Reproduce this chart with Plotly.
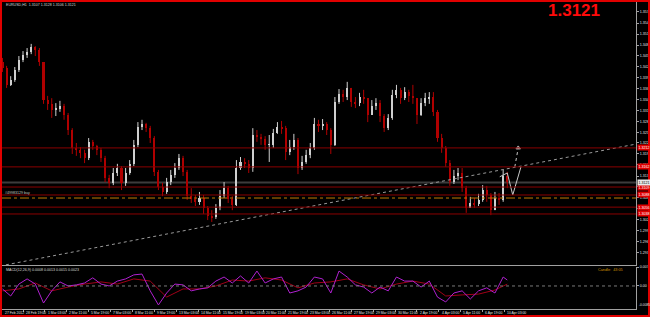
import plotly.graph_objects as go

# ---------------- data (EURUSD H1, 6-hour candles) ----------------
candle_bar = list(range(-30, 709, 6))  # bar index (H1 bars) of each candle

opens = [
    1.3438, 1.3422, 1.3378, 1.3391, 1.3417, 1.3444, 1.3457, 1.3465, 1.3478, 1.3470,
    1.3438, 1.3338, 1.3328, 1.3312, 1.3317, 1.3322, 1.3299, 1.3259, 1.3212, 1.3207,
    1.3199, 1.3185, 1.3228, 1.3217, 1.3207, 1.3185, 1.3133, 1.3120, 1.3146, 1.3159,
    1.3120, 1.3146, 1.3170, 1.3220, 1.3267, 1.3275, 1.3264, 1.3238, 1.3149, 1.3109,
    1.3096, 1.3122, 1.3141, 1.3159, 1.3185, 1.3149, 1.3085, 1.3077, 1.3070, 1.3080,
    1.3054, 1.3033, 1.3030, 1.3054, 1.3085, 1.3106, 1.3077, 1.3062, 1.3159, 1.3175,
    1.3170, 1.3159, 1.3246, 1.3241, 1.3235, 1.3220, 1.3220, 1.3251, 1.3267, 1.3264,
    1.3201, 1.3214, 1.3233, 1.3159, 1.3175, 1.3193, 1.3212, 1.3275, 1.3270, 1.3275,
    1.3259, 1.3220, 1.3333, 1.3354, 1.3346, 1.3370, 1.3333, 1.3330, 1.3346, 1.3343,
    1.3299, 1.3322, 1.3330, 1.3296, 1.3264, 1.3291, 1.3351, 1.3365, 1.3343, 1.3359,
    1.3349, 1.3343, 1.3299, 1.3330, 1.3343, 1.3346, 1.3307, 1.3238, 1.3212, 1.3172,
    1.3122, 1.3138, 1.3146, 1.3106, 1.3054, 1.3067, 1.3064, 1.3075, 1.3101, 1.3088,
    1.3048, 1.3080, 1.3075, 1.3138]
highs = [
    1.3449, 1.3428, 1.3401, 1.3425, 1.3454, 1.3467, 1.3475, 1.3486, 1.3480, 1.3475,
    1.3438, 1.3349, 1.3343, 1.3330, 1.3336, 1.3328, 1.3304, 1.3264, 1.3225, 1.3214,
    1.3207, 1.3238, 1.3233, 1.3220, 1.3212, 1.3191, 1.3141, 1.3159, 1.3170, 1.3164,
    1.3159, 1.3180, 1.3233, 1.3280, 1.3286, 1.3278, 1.3270, 1.3243, 1.3154, 1.3120,
    1.3133, 1.3154, 1.3172, 1.3196, 1.3191, 1.3154, 1.3106, 1.3088, 1.3096, 1.3088,
    1.3059, 1.3048, 1.3064, 1.3101, 1.3122, 1.3112, 1.3085, 1.3180, 1.3188, 1.3185,
    1.3180, 1.3264, 1.3259, 1.3249, 1.3243, 1.3246, 1.3262, 1.3280, 1.3283, 1.3270,
    1.3233, 1.3249, 1.3238, 1.3191, 1.3207, 1.3225, 1.3291, 1.3286, 1.3288, 1.3280,
    1.3264, 1.3346, 1.3367, 1.3365, 1.3386, 1.3370, 1.3346, 1.3357, 1.3365, 1.3343,
    1.3338, 1.3343, 1.3338, 1.3301, 1.3301, 1.3365, 1.3378, 1.3370, 1.3372, 1.3365,
    1.3378, 1.3343, 1.3343, 1.3357, 1.3359, 1.3359, 1.3312, 1.3249, 1.3217, 1.3180,
    1.3154, 1.3159, 1.3159, 1.3112, 1.3083, 1.3080, 1.3091, 1.3114, 1.3112, 1.3093,
    1.3096, 1.3093, 1.3154, 1.3149]
lows = [
    1.3412, 1.3370, 1.3375, 1.3386, 1.3412, 1.3438, 1.3449, 1.3459, 1.3454, 1.3428,
    1.3328, 1.3312, 1.3291, 1.3296, 1.3307, 1.3286, 1.3246, 1.3196, 1.3191, 1.3185,
    1.3172, 1.3180, 1.3207, 1.3193, 1.3175, 1.3122, 1.3106, 1.3114, 1.3138, 1.3101,
    1.3112, 1.3141, 1.3164, 1.3214, 1.3259, 1.3254, 1.3225, 1.3138, 1.3101, 1.3085,
    1.3091, 1.3114, 1.3133, 1.3154, 1.3138, 1.3075, 1.3067, 1.3059, 1.3062, 1.3038,
    1.3022, 1.3017, 1.3025, 1.3048, 1.3080, 1.3067, 1.3048, 1.3059, 1.3154, 1.3159,
    1.3146, 1.3149, 1.3228, 1.3220, 1.3207, 1.3175, 1.3212, 1.3249, 1.3249, 1.3180,
    1.3193, 1.3207, 1.3143, 1.3154, 1.3170, 1.3185, 1.3207, 1.3254, 1.3259, 1.3246,
    1.3196, 1.3217, 1.3328, 1.3333, 1.3338, 1.3320, 1.3317, 1.3322, 1.3328, 1.3280,
    1.3299, 1.3312, 1.3280, 1.3254, 1.3259, 1.3286, 1.3343, 1.3328, 1.3338, 1.3333,
    1.3328, 1.3275, 1.3296, 1.3322, 1.3328, 1.3296, 1.3228, 1.3199, 1.3162, 1.3112,
    1.3117, 1.3127, 1.3096, 1.3041, 1.3054, 1.3054, 1.3059, 1.3070, 1.3070, 1.3035,
    1.3048, 1.3062, 1.3070, 1.3106]
closes = [
    1.3422, 1.3378, 1.3391, 1.3417, 1.3444, 1.3457, 1.3465, 1.3478, 1.3470, 1.3438,
    1.3338, 1.3328, 1.3312, 1.3317, 1.3322, 1.3299, 1.3259, 1.3212, 1.3207, 1.3199,
    1.3185, 1.3228, 1.3217, 1.3207, 1.3185, 1.3133, 1.3120, 1.3146, 1.3159, 1.3120,
    1.3146, 1.3170, 1.3220, 1.3267, 1.3275, 1.3264, 1.3238, 1.3149, 1.3109, 1.3096,
    1.3122, 1.3141, 1.3159, 1.3185, 1.3149, 1.3085, 1.3077, 1.3070, 1.3080, 1.3054,
    1.3033, 1.3030, 1.3054, 1.3085, 1.3106, 1.3077, 1.3062, 1.3159, 1.3175, 1.3170,
    1.3159, 1.3246, 1.3241, 1.3235, 1.3220, 1.3220, 1.3251, 1.3267, 1.3264, 1.3201,
    1.3214, 1.3233, 1.3159, 1.3175, 1.3193, 1.3212, 1.3275, 1.3270, 1.3275, 1.3259,
    1.3220, 1.3333, 1.3354, 1.3346, 1.3370, 1.3333, 1.3330, 1.3346, 1.3343, 1.3299,
    1.3322, 1.3330, 1.3296, 1.3264, 1.3291, 1.3351, 1.3365, 1.3343, 1.3359, 1.3349,
    1.3343, 1.3299, 1.3330, 1.3343, 1.3346, 1.3307, 1.3238, 1.3212, 1.3172, 1.3122,
    1.3138, 1.3146, 1.3106, 1.3054, 1.3067, 1.3064, 1.3075, 1.3101, 1.3088, 1.3048,
    1.3080, 1.3075, 1.3138, 1.3121]

macd_bar = list(range(-30, 703, 12)) + [708]
macd_vals = [
    -0.0011, -0.0037, 0.0007, 0.0026, 0.0007, -0.0063, -0.0018, 0.0015, 0.0000, 0.0004,
    0.0011, 0.0030, 0.0007, 0.0000, 0.0018, 0.0026, 0.0041, 0.0044, -0.0018, -0.0070,
    -0.0026, 0.0007, 0.0004, -0.0018, -0.0011, -0.0007, 0.0018, 0.0033, 0.0011, 0.0037,
    0.0011, 0.0055, 0.0011, 0.0026, 0.0033, -0.0026, -0.0018, -0.0004, 0.0033, 0.0026,
    -0.0026, 0.0055, 0.0033, 0.0004, -0.0004, -0.0026, -0.0004, -0.0018, 0.0033, 0.0018,
    0.0018, -0.0004, 0.0018, -0.0041, -0.0059, -0.0026, -0.0018, -0.0048, -0.0018, -0.0007,
    -0.0026, 0.0033, 0.0022]
signal_bar = list(range(-30, 691, 24)) + [708]
signal_vals = [
    -0.0018, -0.0011, 0.0011, -0.0018, -0.0004, 0.0007, 0.0015, 0.0007, 0.0026, 0.0018,
    -0.0041, -0.0011, -0.0011, 0.0000, 0.0022, 0.0018, 0.0030, 0.0022, -0.0007, 0.0011,
    0.0015, 0.0026, 0.0004, -0.0011, 0.0007, 0.0018, 0.0007, -0.0037, -0.0033, -0.0030,
    -0.0015, 0.0007]

level_prices = [1.3212, 1.3162, 1.3109, 1.3088, 1.3056, 1.3038]
order_price = 1.3080
bid_price = 1.3121

price_ticks = [1.3570, 1.3541, 1.3512, 1.3483, 1.3455, 1.3426, 1.3397, 1.3368, 1.3340,
               1.3311, 1.3282, 1.3253, 1.3225, 1.3196, 1.3167, 1.3138, 1.3110, 1.3081,
               1.3052, 1.3023, 1.2995, 1.2966, 1.2937]
macd_ticks = [0.0070, 0.0]
macd_ticktext = ["0.0070", "0.00"]
macd_min_label = -0.0085

time_bars = list(range(0, 705, 32))
time_labels = ["28 Feb 19:00", "1 Mar 03:00", "2 Mar 11:00", "5 Mar 19:00", "7 Mar 03:00",
               "8 Mar 11:00", "9 Mar 19:00", "13 Mar 03:00", "14 Mar 11:00", "15 Mar 19:00",
               "19 Mar 03:00", "20 Mar 11:00", "21 Mar 19:00", "23 Mar 03:00", "26 Mar 11:00",
               "27 Mar 19:00", "29 Mar 03:00", "30 Mar 11:00", "2 Apr 19:00", "4 Apr 03:00",
               "5 Apr 11:00", "6 Apr 19:00", "10 Apr 03:00"]

trend_bar = [-25, 896]
trend_price = [1.2904, 1.3222]
proj_bar = [697, 708, 716, 728]
proj_price = [1.3136, 1.3146, 1.3088, 1.3162]
arrow_bar = [719, 724]
arrow_price = [1.3162, 1.3212]

# ---------------- layout helpers ----------------
W, H = 650, 317
ML, MR, MT, MB = 2, 14, 2, 8
PW, PH = W - ML - MR, H - MT - MB


def px_x(p):
    return (p - ML) / PW


def px_y(p):
    return (H - MB - p) / PH


XR = [-30.7, 896.2]
FONT = "Liberation Sans, Arial, sans-serif"
BULL, BEAR = "#cfcfcf", "#b00000"

fig = go.Figure()

# candle bodies
body_base, body_h, body_col = [], [], []
for o, c in zip(opens, closes):
    body_base.append(min(o, c))
    body_h.append(max(abs(c - o), 0.00015))
    body_col.append(BULL if c >= o else BEAR)
# wicks
for col, bull in ((BULL, True), (BEAR, False)):
    wx, wy = [], []
    for b, o, h, l, c in zip(candle_bar, opens, highs, lows, closes):
        if (c >= o) == bull:
            wx += [b, b, None]
            wy += [l, h, None]
    fig.add_trace(go.Scatter(x=wx, y=wy, mode="lines", line=dict(color=col, width=1),
                             hoverinfo="skip", showlegend=False, xaxis="x", yaxis="y"))
fig.add_trace(go.Bar(x=candle_bar, y=body_h, base=body_base, width=3,
                     marker=dict(color=body_col, line=dict(width=0)),
                     showlegend=False, xaxis="x", yaxis="y"))

# trendline and projection drawings
fig.add_trace(go.Scatter(x=trend_bar, y=trend_price, mode="lines",
                         line=dict(color="#9a9a9a", width=1, dash="dot"),
                         showlegend=False, xaxis="x", yaxis="y"))
fig.add_trace(go.Scatter(x=proj_bar, y=proj_price, mode="lines",
                         line=dict(color="#c8c8c8", width=1),
                         showlegend=False, xaxis="x", yaxis="y"))
fig.add_trace(go.Scatter(x=arrow_bar, y=arrow_price, mode="lines+markers",
                         line=dict(color="#c8c8c8", width=1, dash="dot"),
                         marker=dict(symbol=["circle", "triangle-up"], size=[0, 4], color="#c8c8c8"),
                         showlegend=False, xaxis="x", yaxis="y"))

# MACD panel
fig.add_trace(go.Scatter(x=signal_bar, y=signal_vals, mode="lines",
                         line=dict(color="#a00018", width=1),
                         showlegend=False, xaxis="x2", yaxis="y2"))
fig.add_trace(go.Scatter(x=macd_bar, y=macd_vals, mode="lines",
                         line=dict(color="#b020d0", width=1),
                         showlegend=False, xaxis="x2", yaxis="y2"))

shapes = []
for lv in level_prices:
    shapes.append(dict(type="line", xref="x", yref="y", x0=XR[0], x1=XR[1], y0=lv, y1=lv,
                       line=dict(color="#8a0000", width=1)))
shapes.append(dict(type="line", xref="x", yref="y", x0=XR[0], x1=XR[1], y0=bid_price, y1=bid_price,
                   line=dict(color="#3c3c3c", width=2), layer="below"))
shapes.append(dict(type="line", xref="x", yref="y", x0=XR[0], x1=XR[1], y0=order_price, y1=order_price,
                   line=dict(color="#c07a00", width=1, dash="dashdot")))
shapes.append(dict(type="line", xref="x2", yref="y2", x0=XR[0], x1=XR[1], y0=0, y1=0,
                   line=dict(color="#7a7a7a", width=1, dash="dot")))
# outer red frame
shapes.append(dict(type="rect", xref="paper", yref="paper", x0=px_x(1), x1=px_x(649),
                   y0=px_y(316), y1=px_y(1), line=dict(color="#e00000", width=2), layer="above"))

ann = []
small = dict(family=FONT, size=3.6, color="#d8d8d8")
ann.append(dict(xref="paper", yref="paper", x=px_x(4), y=px_y(5), xanchor="left", yanchor="middle",
                text="EURUSD,H1  1.3107 1.3128 1.3106 1.3121", showarrow=False, font=small))
ann.append(dict(xref="paper", yref="paper", x=px_x(602), y=px_y(10), xanchor="right", yanchor="middle",
                text="<b>1.3121</b>", showarrow=False,
                font=dict(family=FONT, size=17, color="#ff0a0a")))
ann.append(dict(xref="paper", yref="y", x=px_x(3), y=order_price + 0.0004, xanchor="left",
                yanchor="bottom", text="#49983129 buy", showarrow=False,
                font=dict(family=FONT, size=3.6, color="#c0c0c0")))
ann.append(dict(xref="paper", yref="paper", x=px_x(4), y=px_y(270), xanchor="left", yanchor="middle",
                text="MACD(12,26,9) 0.0008 0.0013 0.0015 0.0023", showarrow=False, font=small))
ann.append(dict(xref="paper", yref="paper", x=px_x(625), y=px_y(270), xanchor="right", yanchor="middle",
                text="Candle:  43:05", showarrow=False,
                font=dict(family=FONT, size=3.8, color="#d09000")))
ann.append(dict(xref="paper", yref="y2", x=px_x(637), y=macd_min_label, xanchor="left",
                yanchor="bottom", text=f"{macd_min_label:.4f}", showarrow=False,
                font=dict(family=FONT, size=3.3, color="#e0e0e0")))
for lv in level_prices:
    ann.append(dict(xref="paper", yref="y", x=px_x(637), y=lv, xanchor="left", yanchor="middle",
                    text=f"{lv:.4f}", showarrow=False, bgcolor="#e00000", borderpad=0.6,
                    font=dict(family=FONT, size=3.6, color="#ffffff")))
ann.append(dict(xref="paper", yref="y", x=px_x(637), y=bid_price, xanchor="left", yanchor="middle",
                text=f"{bid_price:.4f}", showarrow=False, bgcolor="#e8e8e8", borderpad=0.6,
                font=dict(family=FONT, size=3.6, color="#000000")))
ann.append(dict(xref="x2", yref="paper", x=-29, y=px_y(313), xanchor="left", yanchor="middle",
                text="27 Feb 2012", showarrow=False, font=dict(family=FONT, size=3.4, color="#e0e0e0")))
for b, t in zip(time_bars, time_labels):
    ann.append(dict(xref="x2", yref="paper", x=b + 1, y=px_y(313), xanchor="left", yanchor="middle",
                    text=t, showarrow=False, font=dict(family=FONT, size=3.4, color="#e0e0e0")))

axis_common = dict(showgrid=False, zeroline=False, automargin=False)
fig.update_layout(
    width=W, height=H,
    margin=dict(l=ML, r=MR, t=MT, b=MB, pad=0),
    paper_bgcolor="#000000", plot_bgcolor="#000000",
    showlegend=False, bargap=0,
    xaxis=dict(domain=[0, 1], anchor="y", range=XR, showticklabels=False, ticks="",
               showline=True, linecolor="#a0a0a0", linewidth=1, **axis_common),
    yaxis=dict(domain=[px_y(265), 1], anchor="x", side="right", range=[1.29036, 1.35963],
               tickvals=price_ticks, tickformat=".4f", ticks="outside", ticklen=2,
               tickcolor="#a0a0a0", showline=True, linecolor="#a0a0a0", linewidth=1,
               tickfont=dict(family=FONT, size=3.6, color="#e0e0e0"), **axis_common),
    xaxis2=dict(domain=[0, 1], anchor="y2", range=XR, showticklabels=False,
                tickvals=time_bars, ticks="outside", ticklen=2, tickcolor="#a0a0a0",
                showline=True, linecolor="#a0a0a0", linewidth=1, **axis_common),
    yaxis2=dict(domain=[0, px_y(267)], anchor="x2", side="right", range=[-0.0085, 0.0070],
                tickvals=macd_ticks, ticktext=macd_ticktext, ticks="outside", ticklen=2,
                tickcolor="#a0a0a0", showline=True, linecolor="#a0a0a0", linewidth=1,
                tickfont=dict(family=FONT, size=3.6, color="#e0e0e0"), **axis_common),
    shapes=shapes, annotations=ann,
)

fig.write_html("out.html")
